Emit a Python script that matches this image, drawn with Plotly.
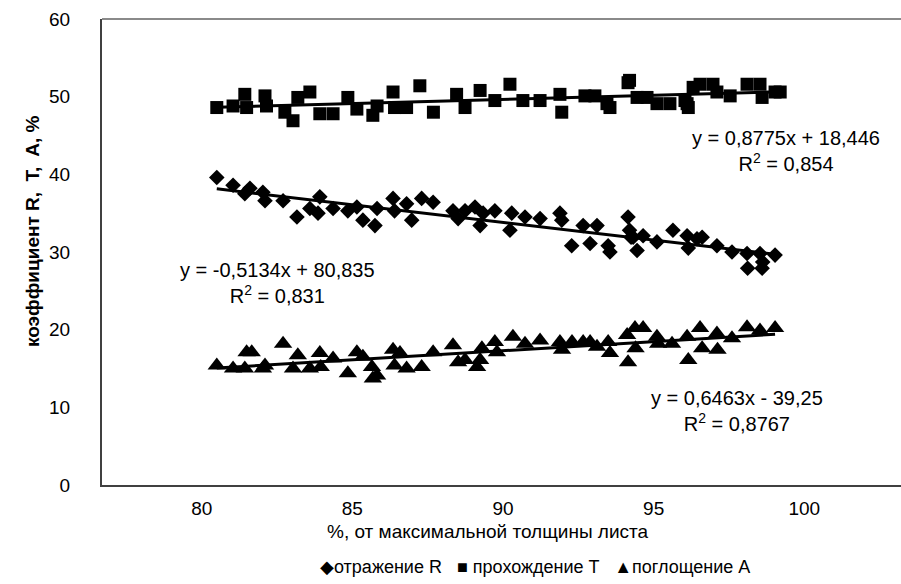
import numpy as np
import plotly.graph_objects as go

# Reflection R (%)
x_R = [80.50, 81.04, 81.43, 81.60, 82.03, 82.10, 82.70, 83.16, 83.59, 83.92, 83.86, 84.36,
       84.85, 85.15, 85.35, 85.75, 85.82, 86.35, 86.40, 86.80, 86.97, 87.30, 87.68, 88.34,
       88.51, 88.74, 89.07, 89.24, 89.34, 89.73, 90.23, 90.29, 90.73, 91.23, 91.89, 91.95,
       92.28, 92.66, 92.89, 93.12, 93.49, 93.55, 94.15, 94.20, 94.25, 94.32, 94.45, 94.65,
       95.11, 95.64, 96.11, 96.15, 96.44, 96.61, 97.10, 97.60, 98.10, 98.12, 98.53, 98.60,
       98.62, 99.03]
R = [39.6, 38.6, 37.5, 38.2, 37.7, 36.6, 36.6, 34.5, 35.6, 37.1, 35.0, 35.6,
     35.3, 35.8, 34.1, 33.4, 35.6, 36.9, 35.3, 36.2, 34.1, 36.9, 36.4, 35.3,
     34.3, 35.3, 35.8, 33.4, 35.0, 35.3, 32.8, 35.0, 34.5, 34.3, 35.0, 34.1,
     30.8, 33.4, 31.1, 33.4, 30.8, 30.0, 34.5, 32.8, 31.9, 31.9, 30.2, 32.1,
     31.3, 32.8, 32.1, 30.5, 31.7, 31.9, 30.8, 30.0, 29.8, 27.9, 29.8, 27.9,
     28.7, 29.6]

# Transmission T (%)
x_T = [80.50, 81.04, 81.43, 81.49, 82.10, 82.15, 82.76, 83.03, 83.19, 83.59, 83.92, 84.36,
       84.85, 85.15, 85.68, 85.82, 86.35, 86.40, 86.80, 87.24, 87.69, 88.46, 88.74, 89.24,
       89.73, 90.23, 90.66, 91.23, 91.89, 91.95, 92.72, 93.05, 93.45, 93.55, 94.15, 94.20,
       94.45, 94.78, 95.11, 95.54, 96.04, 96.11, 96.15, 96.31, 96.54, 96.97, 97.10, 97.54,
       98.10, 98.53, 98.60, 99.03, 99.20]
T = [48.6, 48.8, 50.3, 48.6, 50.1, 48.8, 48.0, 46.9, 49.9, 50.6, 47.8, 47.8,
     49.9, 48.4, 47.6, 48.8, 50.6, 48.6, 48.6, 51.4, 48.0, 50.3, 48.6, 50.8,
     49.5, 51.6, 49.5, 49.5, 50.3, 48.0, 50.1, 50.1, 49.1, 48.6, 51.8, 52.1,
     49.9, 49.9, 49.1, 49.1, 49.5, 49.1, 48.6, 51.2, 51.6, 51.6, 50.6, 50.1,
     51.6, 51.6, 49.9, 50.6, 50.6]

# Absorption A (%)
x_A = [80.50, 81.04, 81.43, 81.49, 81.66, 82.03, 82.10, 82.70, 83.03, 83.19, 83.59, 83.92,
       83.95, 84.36, 84.85, 85.15, 85.35, 85.65, 85.68, 85.82, 86.35, 86.40, 86.58, 86.80,
       87.30, 87.68, 88.34, 88.51, 88.74, 89.14, 89.24, 89.30, 89.73, 89.80, 90.33, 90.73,
       91.23, 91.89, 91.96, 92.29, 92.66, 92.89, 93.12, 93.49, 93.55, 94.12, 94.15, 94.38,
       94.40, 94.65, 95.11, 95.15, 95.61, 96.11, 96.15, 96.54, 96.61, 97.10, 97.12, 97.60,
       98.10, 98.53, 99.03]
A = [15.4, 15.0, 15.0, 17.1, 17.1, 15.0, 15.4, 18.2, 15.0, 16.7, 15.0, 17.0,
     15.2, 16.3, 14.4, 17.1, 16.5, 15.2, 13.7, 14.1, 17.4, 15.4, 17.0, 15.0,
     15.2, 17.1, 18.0, 15.8, 16.1, 15.2, 16.1, 17.6, 18.4, 17.1, 19.1, 18.2,
     18.6, 18.4, 17.4, 18.4, 18.4, 18.4, 17.8, 18.4, 17.0, 19.3, 15.8, 20.2,
     17.6, 20.2, 19.1, 18.2, 18.2, 19.1, 16.1, 20.2, 17.6, 19.5, 17.4, 18.9,
     20.3, 19.9, 20.2]

# Trendline equations as printed on the chart
eq_R = "y = -0,5134x + 80,835<br>R<sup>2</sup> = 0,831"
eq_T = "y = 0,8775x + 18,446<br>R<sup>2</sup> = 0,854"
eq_A = "y = 0,6463x - 39,25<br>R<sup>2</sup> = 0,8767"

x_ticks = [80, 85, 90, 95, 100]
y_ticks = [0, 10, 20, 30, 40, 50, 60]

FONT = "Liberation Sans, Arial, sans-serif"

series = [
    (x_R, R, "diamond", 12, "отражение R"),
    (x_T, T, "square", 13, "прохождение T"),
    (x_A, A, "triangle-up", 16, "поглощение A"),
]

fig = go.Figure()

for xs, ys, sym, size, name in series:
    fig.add_trace(go.Scatter(
        x=xs, y=ys, mode="markers", name=name,
        marker=dict(symbol=sym, size=size, color="black", line=dict(width=0)),
        showlegend=False,
    ))

# linear least-squares trendline across each series' x range
for xs, ys, sym, size, name in series:
    k, b = np.polyfit(xs, ys, 1)
    xl = np.array([min(xs), max(xs)])
    fig.add_trace(go.Scatter(
        x=xl, y=k * xl + b, mode="lines",
        line=dict(color="black", width=3), showlegend=False, hoverinfo="skip",
    ))

W, H = 901, 584
L, Rm, Tm, B = 102, 0, 19, 99
pw, ph = W - L - Rm, H - Tm - B


def px(xp):
    return (xp - L) / pw


def py(yp):
    return (H - B - yp) / ph


ann = []
for text, xp, yp in [(eq_T, 786, 151), (eq_R, 277, 283), (eq_A, 737, 411)]:
    ann.append(dict(text=text, x=px(xp), y=py(yp), xref="paper", yref="paper",
                    showarrow=False, align="center", xanchor="center", yanchor="middle",
                    font=dict(family=FONT, size=20, color="black")))

ann.append(dict(text="%, от максимальной толщины листа", x=px(488), y=py(531),
                xref="paper", yref="paper", showarrow=False, xanchor="center", yanchor="middle",
                font=dict(family=FONT, size=19, color="black")))
ann.append(dict(text="<b>коэффициент R,  T,  A, %</b>", x=px(32), y=py(232), textangle=-90,
                xref="paper", yref="paper", showarrow=False, xanchor="center", yanchor="middle",
                font=dict(family=FONT, size=19, color="black")))
ann.append(dict(text="◆отражение R   ■ прохождение T   ▲поглощение A", x=px(535), y=py(567),
                xref="paper", yref="paper", showarrow=False, xanchor="center", yanchor="middle",
                font=dict(family=FONT, size=18, color="black")))

fig.update_layout(
    width=W, height=H,
    margin=dict(l=L, r=Rm, t=Tm, b=B, pad=0),
    paper_bgcolor="white", plot_bgcolor="white",
    annotations=ann,
    shapes=[dict(type="line", xref="paper", yref="paper", x0=0, x1=1, y0=1, y1=1,
                 line=dict(color="#8a8a8a", width=2))],
    xaxis=dict(range=[76.69, 103.21], tickvals=x_ticks, ticktext=[str(v) for v in x_ticks],
               showgrid=False, zeroline=False, showline=True, linecolor="#404040", linewidth=2,
               ticks="", ticklabelstandoff=5,
               tickfont=dict(family=FONT, size=19, color="black")),
    yaxis=dict(range=[0, 60], tickvals=y_ticks, showgrid=False, zeroline=False,
               showline=True, linecolor="#404040", linewidth=2, ticks="",
               ticklabelstandoff=26,
               tickfont=dict(family=FONT, size=19, color="black")),
)

fig.write_html("out.html")
